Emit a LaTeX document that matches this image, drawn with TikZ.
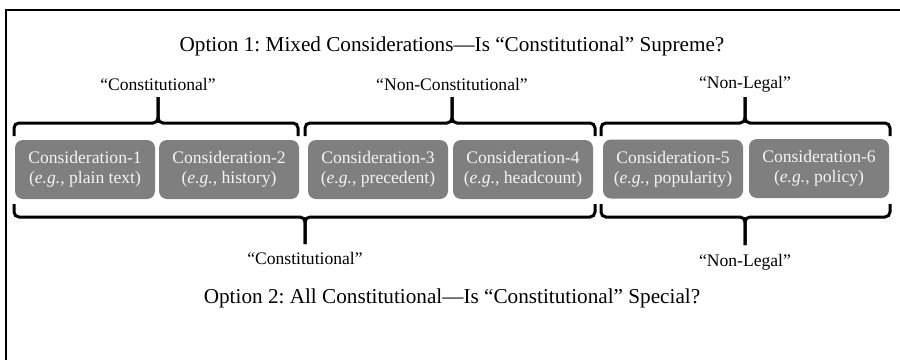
\documentclass[tikz,border=0pt]{standalone}
\usepackage{fontspec}
\setmainfont{Liberation Serif}
\frenchspacing
\definecolor{boxgray}{HTML}{7F7F7F}
\definecolor{boxtext}{HTML}{F4F4F4}
\begin{document}
\begin{tikzpicture}[x=1pt,y=-1pt,
  cbox/.style={fill=boxgray, rounded corners=8pt, minimum width=140pt, minimum height=59pt,
    text=boxtext, align=center, font=\fontsize{17.6}{20}\selectfont, inner sep=0pt},
  bracepath/.style={line width=3pt, rounded corners=5pt},
  lbl/.style={font=\fontsize{17.6}{20}\selectfont, inner sep=0pt},
  ttl/.style={font=\fontsize{21.2}{24}\selectfont, inner sep=0pt}]
\useasboundingbox (0,0) rectangle (900,359);
\draw[line width=2pt] (6,380) -- (6,10) -- (920,10);

\node[ttl] (t1) at (452,46) {Option 1: Mixed Considerations—Is “Constitutional” Supreme?};
\node[ttl] (t2) at (452,298) {Option 2: All Constitutional—Is “Constitutional” Special?};

\node[cbox] (c1) at (85,169.5) {Consideration-1\\(\textit{e.g.}, plain text)};
\node[cbox] (c2) at (229,169.5) {Consideration-2\\(\textit{e.g.}, history)};
\node[cbox] (c3) at (378,169.5) {Consideration-3\\(\textit{e.g.}, precedent)};
\node[cbox] (c4) at (523,169.5) {Consideration-4\\(\textit{e.g.}, headcount)};
\node[cbox] (c5) at (673,169) {Consideration-5\\(\textit{e.g.}, popularity)};
\node[cbox] (c6) at (819,168.5) {Consideration-6\\(\textit{e.g.}, policy)};

% top braces
\draw[bracepath] (14,136) -- (14,123) -- (158,123) -- (158,97);
\draw[bracepath] (158,97) -- (158,123) -- (298,123) -- (298,136);
\draw[bracepath] (305,136) -- (305,123) -- (452,123) -- (452,97);
\draw[bracepath] (452,97) -- (452,123) -- (595,123) -- (595,136);
\draw[bracepath] (601,136) -- (601,123) -- (745,123) -- (745,97);
\draw[bracepath] (745,97) -- (745,123) -- (890,123) -- (890,136);

% bottom braces
\draw[bracepath] (14,204) -- (14,217) -- (305,217) -- (305,244);
\draw[bracepath] (305,244) -- (305,217) -- (595,217) -- (595,204);
\draw[bracepath] (601,204) -- (601,217) -- (745,217) -- (745,245);
\draw[bracepath] (745,245) -- (745,217) -- (890,217) -- (890,204);

\node[lbl] (l1) at (158,84) {“Constitutional”};
\node[lbl] (l2) at (452,84) {“Non-Constitutional”};
\node[lbl] (l3) at (745,84) {“Non-Legal”};
\node[lbl] (l4) at (305,258) {“Constitutional”};
\node[lbl] (l5) at (745,262) {“Non-Legal”};
\end{tikzpicture}
\end{document}
